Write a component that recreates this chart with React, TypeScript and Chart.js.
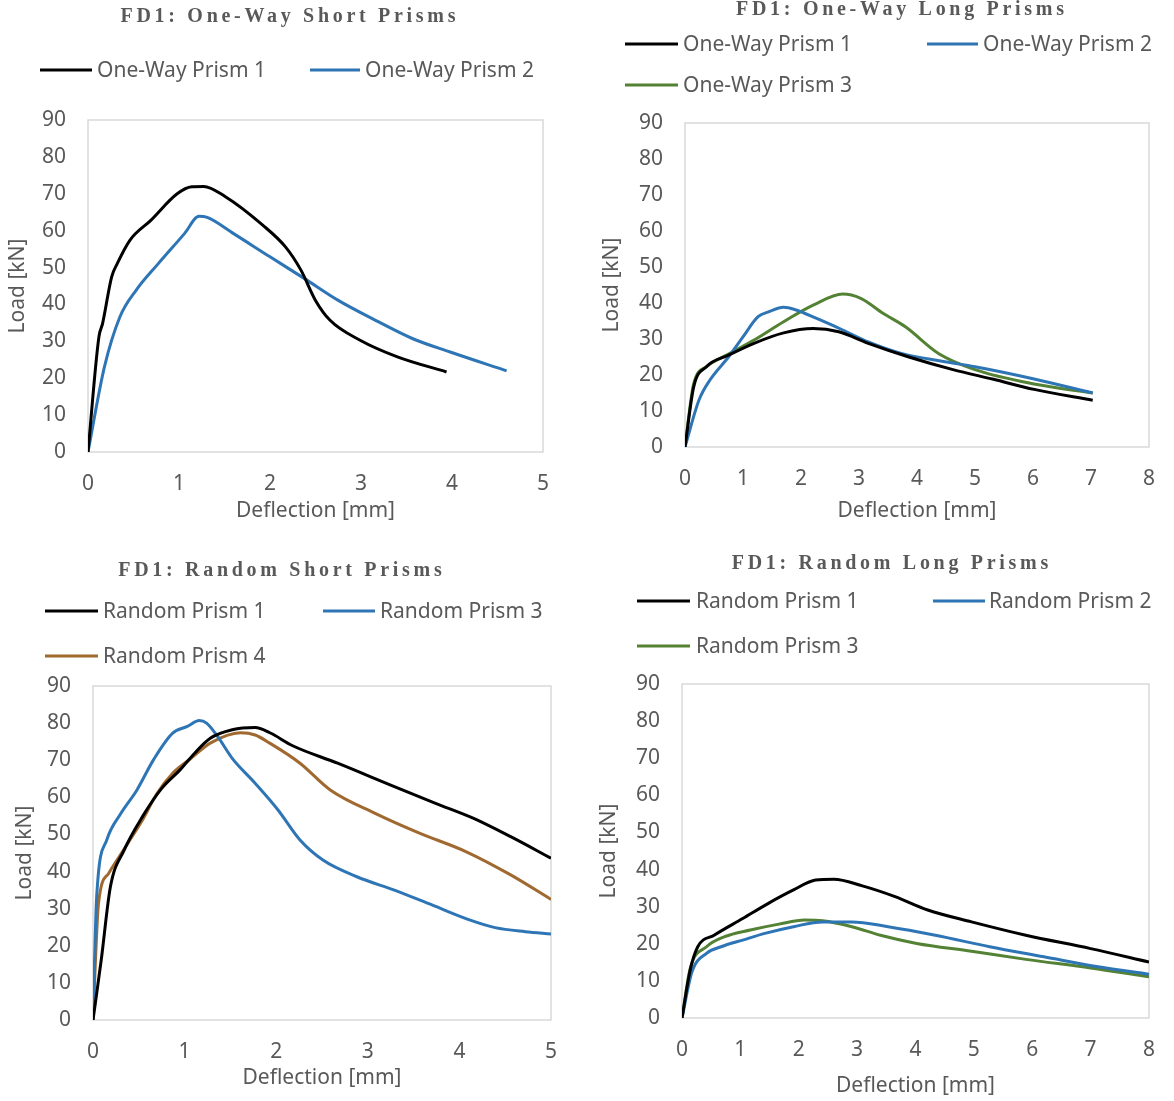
import React, { useEffect, useRef } from "react";
import { Chart, registerables } from "chart.js";

Chart.register(...registerables);

const GREY = "#595959";
const BLACK = "#000000";
const BLUE = "#2E75B6";
const GREEN = "#548235";
const BROWN = "#A0692F";

// ---------- Chart 1: One-Way Short Prisms ----------
const c1Title = "FD1: One-Way Short Prisms";
const c1Labels = ["One-Way Prism 1", "One-Way Prism 2"];
const c1P1X = [0, 0.12, 0.16, 0.26, 0.32, 0.46, 0.69, 0.98, 1.14, 1.27, 1.51, 1.92, 2.17, 2.34, 2.5, 2.66, 2.99, 3.4, 3.94];
const c1P1Y = [0, 31.2, 34.8, 47.5, 51, 57.4, 62.8, 70, 71.9, 72, 69.2, 61.5, 55.6, 49.3, 41.1, 35.7, 30.3, 25.8, 21.7];
const c1P2X = [0, 0.18, 0.35, 0.53, 0.77, 1.06, 1.22, 1.31, 1.6, 2.0, 2.38, 2.75, 3.16, 3.57, 3.98, 4.6];
const c1P2Y = [0, 23, 36.6, 43.9, 51, 59.2, 63.9, 63.6, 59.2, 52.9, 47, 41.1, 35.7, 30.7, 27.1, 22];

// ---------- Chart 2: One-Way Long Prisms ----------
const c2Title = "FD1: One-Way Long Prisms";
const c2Labels = ["One-Way Prism 1", "One-Way Prism 2", "One-Way Prism 3"];
const c2P1X = [0, 0.15, 0.37, 0.75, 1.19, 1.7, 2.21, 2.65, 3.16, 3.86, 4.62, 5.32, 6.02, 7.03];
const c2P1Y = [0, 16.7, 22.3, 25.5, 28.8, 31.7, 32.9, 32.0, 28.8, 25.0, 21.5, 18.8, 16.0, 13.0];
const c2P2X = [0, 0.24, 0.43, 0.75, 1.0, 1.26, 1.45, 1.7, 1.89, 2.27, 2.72, 3.16, 3.73, 4.43, 5.0, 6.02, 7.03];
const c2P2Y = [0, 13, 18.6, 25, 30.6, 36.2, 37.6, 38.8, 38.2, 35.7, 32.5, 29.2, 26, 23.8, 22.3, 18.9, 15];
const c2P3X = [0, 0.15, 0.37, 0.75, 1.19, 1.7, 2.21, 2.72, 3.03, 3.42, 3.8, 4.37, 5.0, 6.02, 7.03];
const c2P3Y = [0, 17.6, 22.3, 25.8, 29.7, 34.8, 39.4, 42.5, 41.3, 37.1, 33.4, 26, 21.5, 17.5, 15];

// ---------- Chart 3: Random Short Prisms ----------
const c3Title = "FD1: Random Short Prisms";
const c3Labels = ["Random Prism 1", "Random Prism 3", "Random Prism 4"];
const c3P1X = [0, 0.09, 0.19, 0.34, 0.54, 0.75, 0.95, 1.11, 1.28, 1.52, 1.77, 1.93, 2.18, 2.67, 3.25, 3.74, 4.15, 4.56, 5.0];
const c3P1Y = [0, 16.2, 35.9, 45.8, 54.8, 62.4, 67.4, 71.9, 75.9, 78.2, 78.8, 77.4, 73.9, 69.2, 63.3, 58.4, 54.4, 49.4, 43.6];
const c3P3X = [0, 0.04, 0.15, 0.3, 0.48, 0.66, 0.87, 1.03, 1.16, 1.24, 1.36, 1.52, 1.77, 2.02, 2.26, 2.51, 2.88, 3.29, 3.7, 4.11, 4.39, 4.72, 5.0];
const c3P3Y = [0, 33.2, 48.5, 55.5, 62, 70.1, 77.3, 79.1, 80.7, 80, 76.4, 70.5, 63.8, 56.6, 48.5, 43.1, 38.6, 35, 31, 27, 24.9, 23.8, 23.2];
const c3P4X = [0, 0.06, 0.17, 0.38, 0.54, 0.7, 0.87, 1.07, 1.28, 1.61, 1.77, 1.93, 2.26, 2.59, 3.08, 3.57, 4.07, 4.56, 5.0];
const c3P4Y = [0, 31.4, 39.5, 47.6, 53.9, 61.1, 66.5, 70.5, 74.6, 77.4, 76.8, 74.6, 69.2, 62, 55.7, 50.3, 45.4, 39.1, 32.5];

// ---------- Chart 4: Random Long Prisms ----------
const c4Title = "FD1: Random Long Prisms";
const c4Labels = ["Random Prism 1", "Random Prism 2", "Random Prism 3"];
const c4P1X = [0, 0.14, 0.27, 0.55, 1.04, 1.48, 1.91, 2.29, 2.6, 3.09, 3.65, 4.21, 4.96, 5.89, 7.0, 8.0];
const c4P1Y = [0, 12.9, 19.2, 22.3, 26.8, 30.9, 34.5, 37.2, 37.4, 35.6, 32.7, 29.1, 25.9, 22.3, 18.7, 15.1];
const c4P2X = [0, 0.17, 0.42, 0.67, 1.04, 1.42, 1.91, 2.41, 2.91, 3.53, 4.34, 5.27, 6.2, 7.13, 8.0];
const c4P2Y = [0, 12.4, 17.4, 19.2, 21, 22.8, 24.6, 25.9, 25.9, 24.6, 22.3, 19.2, 16.5, 13.8, 11.8];
const c4P3X = [0, 0.14, 0.42, 0.73, 1.17, 1.66, 2.1, 2.41, 2.91, 3.4, 4.02, 4.96, 5.89, 7.0, 8.0];
const c4P3Y = [0, 13.3, 19.2, 21.9, 23.7, 25.3, 26.4, 26.2, 24.6, 22.3, 20.1, 18, 15.8, 13.5, 11.1];

const xTitle = "Deflection [mm]";
const yTitle = "Load [kN]";
const yMax = 90;
const yStep = 10;

const FONT = '"Noto Sans", "Open Sans", sans-serif';

function pts(xs: number[], ys: number[]) {
  return xs.map((x, i) => ({ x, y: ys[i] }));
}

const framePlugin = {
  id: "frame",
  beforeDatasetsDraw(chart: any) {
    const { ctx, chartArea: a } = chart;
    ctx.save();
    ctx.strokeStyle = "#D9D9D9";
    ctx.lineWidth = 1.5;
    ctx.strokeRect(a.left, a.top, a.right - a.left, a.bottom - a.top);
    ctx.restore();
  },
};

const headerPlugin = {
  id: "header",
  afterDraw(chart: any, _args: any, opts: any) {
    const { ctx } = chart;
    ctx.save();
    ctx.fillStyle = GREY;
    ctx.textBaseline = "middle";
    ctx.textAlign = "center";
    ctx.font = `bold ${opts.titleSize}px "Liberation Serif", "Times New Roman", serif`;
    (ctx as any).letterSpacing = opts.titleSpacing + "px";
    ctx.fillText(opts.title, opts.titleX + opts.titleSpacing / 2, opts.titleY);
    (ctx as any).letterSpacing = "0px";
    ctx.font = `21px ${FONT}`;
    ctx.textAlign = "left";
    chart.data.datasets.forEach((ds: any, i: number) => {
      const p = opts.items[i];
      if (!p) return;
      ctx.strokeStyle = ds.borderColor;
      ctx.lineWidth = 3;
      ctx.beginPath();
      ctx.moveTo(p.x1, p.y);
      ctx.lineTo(p.x2, p.y);
      ctx.stroke();
      ctx.fillStyle = GREY;
      ctx.fillText(ds.label, p.tx, p.y + 1);
    });
    ctx.restore();
  },
};

type Spec = {
  left: number;
  top: number;
  W: number;
  H: number;
  area: { left: number; top: number; right: number; bottom: number };
  xMax: number;
  yTitlePad: number;
  xTitlePad: number;
  header: any;
  datasets: any[];
};

function ds(label: string, color: string, xs: number[], ys: number[]) {
  return {
    label,
    data: pts(xs, ys),
    borderColor: color,
    backgroundColor: color,
    borderWidth: 3,
    pointRadius: 0,
    fill: false,
    cubicInterpolationMode: "monotone",
  };
}

const TS = 20;
const TSP = 3.7;

const specs: Spec[] = [
  {
    left: 0,
    top: 0,
    W: 587,
    H: 550,
    area: { left: 88, top: 120, right: 543, bottom: 452 },
    xMax: 5,
    yTitlePad: 5.4,
    xTitlePad: 26.4,
    header: {
      title: c1Title,
      titleX: 288,
      titleY: 17,
      titleSize: TS,
      titleSpacing: TSP,
      items: [
        { x1: 40, x2: 92, tx: 97, y: 70 },
        { x1: 310, x2: 360, tx: 365, y: 70 },
      ],
    },
    datasets: [ds(c1Labels[0], BLACK, c1P1X, c1P1Y), ds(c1Labels[1], BLUE, c1P2X, c1P2Y)],
  },
  {
    left: 587,
    top: 0,
    W: 587,
    H: 550,
    area: { left: 98, top: 123, right: 573, bottom: 447 },
    xMax: 8,
    yTitlePad: 12.4,
    xTitlePad: 26.4,
    header: {
      title: c2Title,
      titleX: 313,
      titleY: 10,
      titleSize: TS,
      titleSpacing: TSP,
      items: [
        { x1: 38, x2: 91, tx: 96, y: 44 },
        { x1: 340, x2: 391, tx: 396, y: 44 },
        { x1: 38, x2: 91, tx: 96, y: 85 },
      ],
    },
    datasets: [
      ds(c2Labels[0], BLACK, c2P1X, c2P1Y),
      ds(c2Labels[1], BLUE, c2P2X, c2P2Y),
      ds(c2Labels[2], GREEN, c2P3X, c2P3Y),
    ],
  },
  {
    left: 0,
    top: 550,
    W: 587,
    H: 551,
    area: { left: 93, top: 136, right: 551, bottom: 470 },
    xMax: 5,
    yTitlePad: 12.4,
    xTitlePad: 10.4,
    header: {
      title: c3Title,
      titleX: 280,
      titleY: 21,
      titleSize: TS,
      titleSpacing: TSP,
      items: [
        { x1: 45, x2: 98, tx: 103, y: 61 },
        { x1: 323, x2: 375, tx: 380, y: 61 },
        { x1: 45, x2: 98, tx: 103, y: 106 },
      ],
    },
    datasets: [
      ds(c3Labels[0], BLACK, c3P1X, c3P1Y),
      ds(c3Labels[1], BLUE, c3P3X, c3P3Y),
      ds(c3Labels[2], BROWN, c3P4X, c3P4Y),
    ],
  },
  {
    left: 587,
    top: 550,
    W: 587,
    H: 551,
    area: { left: 95, top: 134, right: 578, bottom: 468 },
    xMax: 8,
    yTitlePad: 9.4,
    xTitlePad: 2.4,
    header: {
      title: c4Title,
      titleX: 303,
      titleY: 14,
      titleSize: TS,
      titleSpacing: TSP,
      items: [
        { x1: 50, x2: 103, tx: 109, y: 51 },
        { x1: 346, x2: 398, tx: 402, y: 51 },
        { x1: 50, x2: 103, tx: 109, y: 96 },
      ],
    },
    datasets: [
      ds(c4Labels[0], BLACK, c4P1X, c4P1Y),
      ds(c4Labels[1], BLUE, c4P2X, c4P2Y),
      ds(c4Labels[2], GREEN, c4P3X, c4P3Y),
    ],
  },
];

function Panel({ spec }: { spec: Spec }) {
  const ref = useRef<HTMLCanvasElement | null>(null);
  useEffect(() => {
    if (!ref.current) return;
    const a = spec.area;
    const chart = new Chart(ref.current, {
      type: "line",
      data: { datasets: spec.datasets },
      plugins: [framePlugin, headerPlugin],
      options: {
        responsive: false,
        animation: false,
        devicePixelRatio: 1,
        layout: { padding: { left: 0, top: a.top, right: spec.W - a.right, bottom: 0 } },
        plugins: {
          legend: { display: false },
          title: { display: false },
          tooltip: { enabled: false },
          header: spec.header,
        } as any,
        scales: {
          x: {
            type: "linear",
            min: 0,
            max: spec.xMax,
            grid: { display: false, drawTicks: false },
            border: { display: false },
            ticks: { stepSize: 1, color: GREY, font: { family: FONT, size: 21 }, padding: 19, maxRotation: 0 },
            title: {
              display: true,
              text: xTitle,
              color: GREY,
              font: { family: FONT, size: 21 },
              padding: { top: 0, bottom: spec.xTitlePad },
            },
            afterFit: (s: any) => {
              s.height = spec.H - a.bottom;
            },
          },
          y: {
            type: "linear",
            min: 0,
            max: yMax,
            grid: { display: false, drawTicks: false },
            border: { display: false },
            ticks: { stepSize: yStep, color: GREY, font: { family: FONT, size: 21 }, padding: 22 },
            title: {
              display: true,
              text: yTitle,
              color: GREY,
              font: { family: FONT, size: 21 },
              padding: { top: spec.yTitlePad, bottom: 0 },
            },
            afterFit: (s: any) => {
              s.width = a.left;
            },
          },
        },
      } as any,
    });
    return () => chart.destroy();
  }, [spec]);
  return (
    <canvas
      ref={ref}
      width={spec.W}
      height={spec.H}
      style={{ position: "absolute", left: spec.left, top: spec.top, width: spec.W, height: spec.H }}
    />
  );
}

export default function App() {
  return (
    <div style={{ position: "absolute", left: 0, top: 0, width: 1174, height: 1101, background: "#fff" }}>
      {specs.map((s, i) => (
        <Panel key={i} spec={s} />
      ))}
    </div>
  );
}
